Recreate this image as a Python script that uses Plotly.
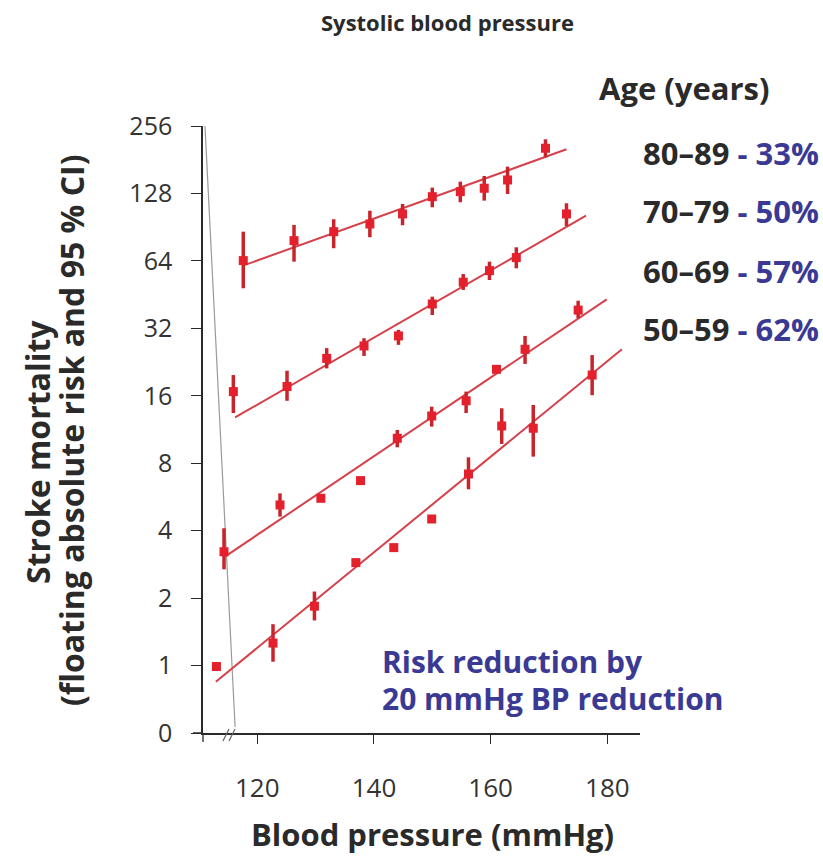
import plotly.graph_objects as go

# ---------------- data ----------------
age_groups = ["80–89", "70–79", "60–69", "50–59"]
risk_reduction = ["33%", "50%", "57%", "62%"]

bp_80 = [117.6, 126.3, 133.1, 139.3, 144.9, 150.0, 154.8, 158.9, 162.9, 169.4]
risk_80 = [64.2, 78.8, 86.4, 93.5, 103.7, 123.8, 130.4, 135.0, 147.0, 203.7]
lo_80 = [48.3, 63.5, 72.9, 81.6, 92.3, 111.0, 116.9, 118.9, 127.3, 185.6]
hi_80 = [86.4, 92.6, 98.2, 107.2, 114.9, 135.9, 144.5, 153.2, 168.6, 223.3]

bp_70 = [115.9, 125.1, 131.9, 138.3, 144.2, 150.0, 155.3, 159.8, 164.4, 173.0]
risk_70 = [16.7, 17.6, 23.5, 26.7, 29.6, 41.1, 51.4, 57.9, 66.2, 103.7]
lo_70 = [13.4, 15.2, 21.2, 24.1, 27.0, 36.7, 47.5, 52.6, 59.3, 91.6]
hi_70 = [19.8, 20.7, 26.1, 28.9, 31.5, 44.3, 55.9, 63.5, 73.6, 115.7]

bp_60 = [114.3, 123.9, 130.9, 137.7, 144.0, 149.9, 155.8, 161.0, 165.9, 175.0]
risk_60 = [3.22, 5.21, 5.58, 6.69, 10.34, 13.0, 15.2, 21.0, 25.8, 38.6]
lo_60 = [2.69, 4.62, 5.58, 6.69, 9.42, 11.65, 13.4, 21.0, 22.2, 35.5]
hi_60 = [4.10, 5.87, 5.58, 6.69, 11.26, 14.3, 16.7, 21.0, 29.6, 42.5]

bp_50 = [113.0, 122.7, 129.8, 136.9, 143.4, 149.9, 156.2, 161.9, 167.3, 177.4]
risk_50 = [0.99, 1.26, 1.84, 2.88, 3.36, 4.51, 7.16, 11.73, 11.46, 19.8]
lo_50 = [0.99, 1.04, 1.59, 2.88, 3.36, 4.51, 6.12, 9.75, 8.56, 16.1]
hi_50 = [0.99, 1.53, 2.14, 2.88, 3.36, 4.51, 8.50, 14.07, 14.56, 24.3]

fit_x_80 = [117.9, 173.0]
fit_y_80 = [61.4, 201.5]
fit_x_70 = [116.2, 176.35]
fit_y_70 = [12.8, 101.9]
fit_x_60 = [114.6, 179.9]
fit_y_60 = [3.08, 43.1]
fit_x_50 = [112.9, 182.5]
fit_y_50 = [0.847, 25.8]

guide_x = [111.04, 116.2]
guide_y = [256, 0.532]

y_tickvals = [0.5, 1, 2, 4, 8, 16, 32, 64, 128, 256]
y_ticktext = ["0", "1", "2", "4", "8", "16", "32", "64", "128", "256"]
x_tickvals = [120, 140, 160, 180]

# ---------------- styling ----------------
FONT = "Open Sans"
RED = "#e3202b"
DARKRED = "#c8242c"
LINE = "#d6404a"
BLUE = "#3a3a94"
DARK = "#2a2a2a"

W, H = 823, 859
ML, MR, MT, MB = 203, 183, 126, 126
PW = W - ML - MR
PH = H - MT - MB


def px(x):
    return (x - ML) / PW


def py(y):
    return (H - MB - y) / PH


fig = go.Figure()

# grey guide line
fig.add_trace(go.Scatter(x=guide_x, y=guide_y, mode="lines",
                         line=dict(color="#9a9a9a", width=1.2),
                         hoverinfo="skip", showlegend=False))

series = [
    (bp_80, risk_80, lo_80, hi_80, fit_x_80, fit_y_80),
    (bp_70, risk_70, lo_70, hi_70, fit_x_70, fit_y_70),
    (bp_60, risk_60, lo_60, hi_60, fit_x_60, fit_y_60),
    (bp_50, risk_50, lo_50, hi_50, fit_x_50, fit_y_50),
]

for (bx, ry, lo, hi, fx, fy), name in zip(series, age_groups):
    fig.add_trace(go.Scatter(x=fx, y=fy, mode="lines",
                             line=dict(color=LINE, width=2),
                             showlegend=False, hoverinfo="skip"))
    fig.add_trace(go.Scatter(
        x=bx, y=ry, mode="markers", name=name, showlegend=False,
        marker=dict(symbol="square", size=9, color=RED, line=dict(width=0)),
        error_y=dict(type="data", symmetric=False,
                     array=[h - v for h, v in zip(hi, ry)],
                     arrayminus=[v - l for v, l in zip(ry, lo)],
                     color=DARKRED, thickness=3.5, width=0),
    ))

fig.update_xaxes(range=[110.7, 185.6], tickvals=x_tickvals,
                 ticks="outside", ticklen=9, tickwidth=1.3, tickcolor=DARK,
                 showline=True, linecolor=DARK, linewidth=1.5,
                 showgrid=False, zeroline=False,
                 tickfont=dict(family=FONT, size=26, color="#333333"),
                 ticklabelstandoff=22)
fig.update_yaxes(type="log", range=[-0.30103, 2.40824],
                 tickvals=y_tickvals, ticktext=y_ticktext,
                 ticks="outside", ticklen=10, tickwidth=1.3, tickcolor=DARK,
                 showline=True, linecolor=DARK, linewidth=1.5,
                 showgrid=False, zeroline=False,
                 tickfont=dict(family=FONT, size=25, color="#333333"),
                 ticklabelstandoff=14)

shapes = [
    # axis extensions
    dict(type="line", xref="paper", yref="paper", x0=px(193), x1=px(203),
         y0=py(733), y1=py(733), line=dict(color=DARK, width=1.5)),
    dict(type="line", xref="paper", yref="paper", x0=px(203), x1=px(203),
         y0=py(733), y1=py(742), line=dict(color=DARK, width=1.3)),
    # break marks
    dict(type="line", xref="paper", yref="paper", x0=px(223), x1=px(229),
         y0=py(741), y1=py(729), line=dict(color="#666666", width=1.2)),
    dict(type="line", xref="paper", yref="paper", x0=px(229), x1=px(235),
         y0=py(741), y1=py(729), line=dict(color="#666666", width=1.2)),
]

annotations = [
    dict(text="<b>Systolic blood pressure</b>", x=px(447), y=py(22),
         font=dict(family=FONT, size=22, color=DARK)),
    dict(text="<b>Age (years)</b>", x=px(771), y=py(88), xanchor="right",
         font=dict(family=FONT, size=31, color=DARK)),
    dict(text="<b>Blood pressure (mmHg)</b>", x=px(432), y=py(834),
         font=dict(family=FONT, size=31, color=DARK)),
    dict(text="<b>Stroke mortality</b>",
         x=px(38), y=py(452), textangle=-90,
         font=dict(family=FONT, size=32, color=DARK)),
    dict(text="<b>(floating absolute risk and 95 % CI)</b>",
         x=px(71), y=py(430), textangle=-90,
         font=dict(family=FONT, size=32, color=DARK)),
    dict(text="<b>Risk reduction by</b>",
         x=px(380), y=py(661), xanchor="left",
         font=dict(family=FONT, size=30, color=BLUE)),
    dict(text="<b>20 mmHg BP reduction</b>",
         x=px(380), y=py(698), xanchor="left",
         font=dict(family=FONT, size=30, color=BLUE)),
]
label_y = [153, 211, 271, 329]
for g, r, yy in zip(age_groups, risk_reduction, label_y):
    annotations.append(dict(
        text=f"<b>{g} <span style='color:{BLUE}'>- {r}</span></b>",
        x=px(821), y=py(yy), xanchor="right",
        font=dict(family=FONT, size=31, color=DARK)))

for a in annotations:
    a.setdefault("xref", "paper")
    a.setdefault("yref", "paper")
    a.setdefault("showarrow", False)
    a.setdefault("xanchor", "center")
    a.setdefault("yanchor", "middle")

fig.update_layout(width=W, height=H,
                  margin=dict(l=ML, r=MR, t=MT, b=MB, pad=0),
                  paper_bgcolor="white", plot_bgcolor="white",
                  shapes=shapes, annotations=annotations,
                  showlegend=False)

fig.write_html("out.html")
